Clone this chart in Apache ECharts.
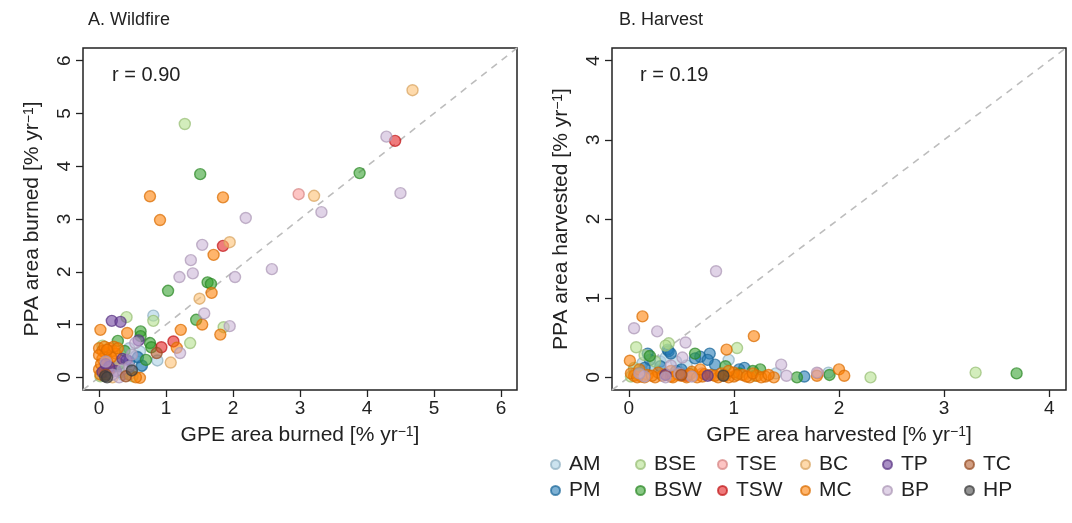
<!DOCTYPE html>
<html>
<head>
<meta charset="utf-8">
<script src="https://cdn.jsdelivr.net/npm/echarts@6/dist/echarts.min.js"></script>
<style>
html,body{margin:0;padding:0;background:#fff;}
#chart{width:1072px;height:523px;}
</style>
</head>
<body>
<div id="chart"></div>
<script>
// ---- categories & colours ----
const categories = ['AM','PM','BSE','BSW','TSE','TSW','BC','MC','TP','BP','TC','HP'];
const colors = {AM:'#A6CEE3',PM:'#1F78B4',BSE:'#B2DF8A',BSW:'#33A02C',TSE:'#FB9A99',TSW:'#E31A1C',
  BC:'#FDBF6F',MC:'#FF7F00',TP:'#6A3D9A',BP:'#CAB2D6',TC:'#B15928',HP:'#444444'};
const legendRow1 = ['AM','BSE','TSE','BC','TP','TC'];
const legendRow2 = ['PM','BSW','TSW','MC','BP','HP'];
const xTicksFire = [0,1,2,3,4,5,6];
const yTicksFire = [0,1,2,3,4,5,6];
const xTicksHarv = [0,1,2,3,4];
const yTicksHarv = [0,1,2,3,4];
const rFire = 'r = 0.90';
const rHarv = 'r = 0.19';

// ---- A. Wildfire: [GPE, PPA] ----
const fireAM = [[0.81,1.17],[0.61,0.49],[0.87,0.32],[0.62,0.20],[0.45,0.55],[0.20,0.15],[0.35,0.05],[0.55,0.40],[0.30,0.20],[0.05,0.05]];
const firePM = [[0.64,0.22],[0.58,0.38],[0.30,0.10],[0.45,0.30]];
const fireBSE = [[1.28,4.80],[1.86,0.95],[1.36,0.65],[0.41,1.14],[0.81,1.07],[0.02,0.02],[0.15,0.25],[0.05,0.60],[0.35,0.10],[0.50,0.02]];
const fireBSW = [[1.51,3.85],[3.89,3.87],[1.62,1.80],[1.67,1.77],[1.03,1.64],[1.45,1.09],[0.62,0.87],[0.62,0.78],[0.28,0.69],[0.76,0.65],[0.78,0.57],[0.38,0.50],[0.70,0.33],[0.30,0.25]];
const fireTSE = [[2.98,3.47],[0.25,0.30]];
const fireTSW = [[4.42,4.48],[1.85,2.49],[1.11,0.68],[0.93,0.57]];
const fireBC = [[4.68,5.44],[3.21,3.44],[1.95,2.56],[1.50,1.49],[1.07,0.28],[0.45,0.05],[0.20,0.00]];
const fireMC = [[0.76,3.43],[1.85,3.41],[0.91,2.98],[1.71,2.32],[1.68,1.60],[1.54,1.00],[1.81,0.81],[1.22,0.90],[1.16,0.56],[0.02,0.90],[0.42,0.84],[0.61,-0.01],
  [0.00,0.55],[0.05,0.50],[0.10,0.45],[0.15,0.55],[0.20,0.50],[0.05,0.35],[0.12,0.30],[0.00,0.15],[0.08,0.10],[0.02,0.05],[0.25,0.45],[0.18,0.38],[0.00,0.42],
  [0.08,0.58],[0.22,0.58],[0.12,0.52],[0.03,0.25],[0.28,0.55],[0.15,0.15],[0.55,0.00]];
const fireTP = [[0.19,1.07],[0.32,1.05],[0.59,0.70],[0.41,0.33],[0.05,0.10],[0.25,0.12],[0.15,0.20],[0.10,0.25],[0.35,0.35]];
const fireBP = [[4.29,4.56],[4.50,3.49],[3.32,3.13],[2.19,3.02],[1.54,2.51],[1.37,2.22],[1.40,1.97],[1.20,1.90],[2.58,2.05],[2.03,1.90],[1.57,1.21],[1.95,0.97],[1.21,0.46],[0.54,0.65],[0.49,0.43],[0.35,0.15],[0.30,0.00],[0.10,0.30],[0.45,0.20],[0.20,0.05]];
const fireTC = [[0.86,0.46],[0.10,0.05],[0.40,0.02]];
const fireHP = [[0.49,0.13],[0.09,0.02],[0.12,0.00]];

// ---- B. Harvest: [GPE, PPA] ----
const harvAM = [[0.95,0.22],[0.30,0.20],[0.10,0.02],[0.50,0.05],[1.90,0.06],[0.80,0.03],[0.25,0.10],[1.40,0.05],[0.05,0.10],
  [0.13,0.18],[0.22,0.12],[0.45,0.20],[0.55,0.15],[0.12,0.08],[0.35,0.25]];
const harvPM = [[0.37,0.35],[0.20,0.22],[0.68,0.26],[0.77,0.30],[0.63,0.24],[0.82,0.16],[0.30,0.14],[1.10,0.12],[1.67,0.01],[0.06,0.05],[0.45,0.08],[0.90,0.03],[0.38,0.33],
  [0.18,0.30],[0.40,0.30],[0.15,0.12],[0.50,0.10],[0.75,0.22],[1.05,0.10]];
const harvBSE = [[0.38,0.43],[0.07,0.38],[1.03,0.37],[2.30,0.00],[3.30,0.06],[0.15,0.28],[0.02,0.01],[0.60,0.05],[1.20,0.02],[0.35,0.40],[0.25,0.20],[0.05,0.12]];
const harvBSW = [[0.20,0.27],[0.63,0.30],[0.92,0.14],[1.25,0.10],[1.60,0.00],[1.91,0.03],[3.69,0.05],[0.10,0.05],[1.05,0.05],[1.18,0.08]];
const harvTSE = [[0.70,0.05],[1.80,0.05]];
const harvTSW = [[0.55,0.02]];
const harvBC = [[0.40,0.02],[1.10,0.03]];
const harvMC = [[0.13,0.77],[1.19,0.52],[0.93,0.35],[0.01,0.21],[1.79,0.02],[2.00,0.10],[2.05,0.02],
  [0.05,0.02],[0.12,0.01],[0.18,0.03],[0.25,0.00],[0.32,0.02],[0.40,0.01],[0.47,0.03],[0.55,0.00],[0.62,0.02],[0.70,0.01],[0.78,0.03],[0.85,0.00],[0.92,0.02],[1.00,0.01],[1.08,0.03],[1.15,0.00],[1.22,0.02],[1.30,0.01],[1.38,0.00],[0.28,0.06],[0.60,0.07],[1.00,0.06],[0.15,0.00],
  [0.02,0.05],[0.08,0.00],[0.22,0.02],[0.35,0.04],[0.42,0.00],[0.50,0.02],[0.58,0.04],[0.65,0.00],[0.72,0.04],[0.82,0.02],[0.88,0.05],[0.95,0.00],[1.03,0.03],[1.12,0.01],[1.18,0.05],[1.26,0.00],[1.33,0.03],[0.95,0.08],[0.40,0.08],[0.68,0.10],[0.10,0.10]];
const harvTP = [[0.35,0.03],[0.75,0.02]];
const harvBP = [[0.83,1.34],[0.05,0.62],[0.27,0.58],[0.54,0.44],[0.51,0.25],[1.45,0.16],[1.79,0.06],[0.15,0.01],[0.35,0.00],[0.60,0.01],[1.50,0.02],[0.40,0.15],[0.48,0.05],[0.10,0.05]];
const harvTC = [[0.50,0.03]];
const harvHP = [[0.90,0.02]];

const fireData = {AM:fireAM,PM:firePM,BSE:fireBSE,BSW:fireBSW,TSE:fireTSE,TSW:fireTSW,BC:fireBC,MC:fireMC,TP:fireTP,BP:fireBP,TC:fireTC,HP:fireHP};
const harvData = {AM:harvAM,PM:harvPM,BSE:harvBSE,BSW:harvBSW,TSE:harvTSE,TSW:harvTSW,BC:harvBC,MC:harvMC,TP:harvTP,BP:harvBP,TC:harvTC,HP:harvHP};

const FONT = '"Liberation Sans", Arial, Helvetica, sans-serif';
const INK = '#222';

function rgba(hex, a, k){
  const n = parseInt(hex.slice(1),16);
  const f = k || 1;
  return 'rgba(' + Math.round(((n>>16)&255)*f) + ',' + Math.round(((n>>8)&255)*f) + ',' + Math.round((n&255)*f) + ',' + a + ')';
}

const fireRange = [-0.24, 6.24];
const harvRange = [-0.16, 4.16];

function axisCommon(ticks, range, isY){
  return {
    type:'value', min:range[0], max:range[1],
    axisLine:{show:false, onZero:false},
    splitLine:{show:false},
    axisTick:{show:true, inside:false, length:7, customValues:ticks, lineStyle:{color:INK, width:1.3}},
    axisLabel:{show:true, customValues:ticks, margin:9, rotate:isY?90:0, fontSize:19, color:INK, fontFamily:FONT,
      formatter:function(v){return String(v);}},
    nameLocation:'middle',
    nameTextStyle:{fontSize:21, color:INK, fontFamily:FONT,
      rich:{sup:{fontSize:14, color:INK, fontFamily:FONT, verticalAlign:'top'}}}
  };
}

const xAxes = [
  Object.assign(axisCommon(xTicksFire, fireRange, false), {gridIndex:0, name:'GPE area burned [% yr{sup|−1}]', nameGap:35}),
  Object.assign(axisCommon(xTicksHarv, harvRange, false), {gridIndex:1, name:'GPE area harvested [% yr{sup|−1}]', nameGap:35})
];
const yAxes = [
  Object.assign(axisCommon(yTicksFire, fireRange, true), {gridIndex:0, name:'PPA area burned [% yr{sup|−1}]', nameGap:40}),
  Object.assign(axisCommon(yTicksHarv, harvRange, true), {gridIndex:1, name:'PPA area harvested [% yr{sup|−1}]', nameGap:40})
];

const series = [
  {type:'line', xAxisIndex:0, yAxisIndex:0, data:[[fireRange[0],fireRange[0]],[fireRange[1],fireRange[1]]],
   symbol:'none', silent:true, z:1, lineStyle:{color:'#bdbdbd', width:1.6, type:[7,6]}},
  {type:'line', xAxisIndex:1, yAxisIndex:1, data:[[harvRange[0],harvRange[0]],[harvRange[1],harvRange[1]]],
   symbol:'none', silent:true, z:1, lineStyle:{color:'#bdbdbd', width:1.6, type:[7,6]}}
];
categories.forEach(function(c){
  const style = {color:rgba(colors[c],0.72), borderColor:rgba(colors[c],0.9,0.85), borderWidth:1.4};
  series.push({type:'scatter', name:c, xAxisIndex:0, yAxisIndex:0, data:fireData[c], symbol:'circle', symbolSize:11, itemStyle:style, z:2});
  series.push({type:'scatter', name:c, xAxisIndex:1, yAxisIndex:1, data:harvData[c], symbol:'circle', symbolSize:11, itemStyle:style, z:2});
});

const legendX = [545, 630, 712, 795, 877, 959];
const legends = [];
[legendRow1, legendRow2].forEach(function(row, ri){
  row.forEach(function(name, ci){
    legends.push({
      data:[name], left:legendX[ci], top: ri===0 ? 449 : 475,
      icon:'circle', itemWidth:9, itemHeight:9, itemGap:0,
      selectedMode:false,
      textStyle:{fontSize:21, color:INK, fontFamily:FONT, padding:[0,0,0,4]}
    });
  });
});

const chart = echarts.init(document.getElementById('chart'), null, {renderer:'canvas'});
chart.setOption({
  animation:false,
  backgroundColor:'#fff',
  grid:[
    {left:83, top:48, width:434, height:342, show:true, borderColor:INK, borderWidth:1.5, backgroundColor:'transparent'},
    {left:612, top:48, width:454, height:342, show:true, borderColor:INK, borderWidth:1.5, backgroundColor:'transparent'}
  ],
  xAxis:xAxes,
  yAxis:yAxes,
  legend:legends,
  graphic:[
    {type:'text', left:88, top:11, style:{text:'A. Wildfire', font:'18px ' + FONT, fill:INK}},
    {type:'text', left:619, top:11, style:{text:'B. Harvest', font:'18px ' + FONT, fill:INK}},
    {type:'text', left:112, top:65, style:{text:rFire, font:'20px ' + FONT, fill:INK}},
    {type:'text', left:640, top:65, style:{text:rHarv, font:'20px ' + FONT, fill:INK}}
  ],
  series:series
});
</script>
</body>
</html>
